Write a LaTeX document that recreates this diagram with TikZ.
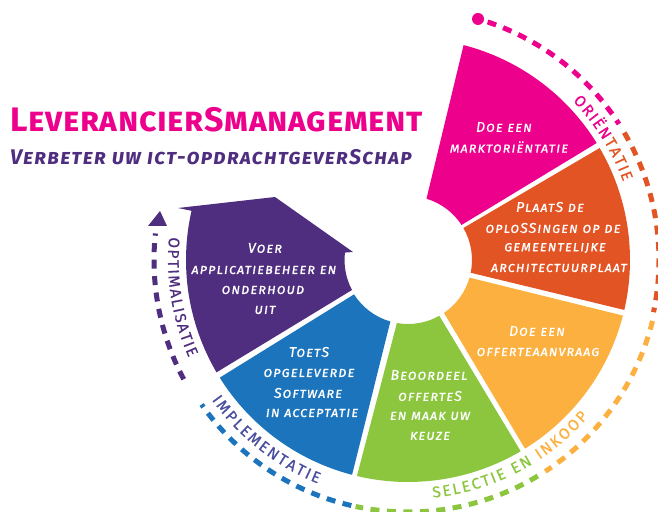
\documentclass[tikz,border=0pt]{standalone}
\usepackage{fontspec}
\setmainfont{Fira Sans}
\newfontfamily\scf{Fira Sans}[Letters=SmallCaps,LetterSpace=7,FakeBold=0.5]
\newfontfamily\subf{Fira Sans}[Letters=SmallCaps,LetterSpace=6]
\newfontfamily\titlef{Fira Sans}[Letters=SmallCaps,LetterSpace=2]
\newfontfamily\lblf{Fira Sans}[FakeBold=0.6]
\usetikzlibrary{calc,decorations.text}
\definecolor{cpink}{HTML}{EC008C}
\definecolor{cred}{HTML}{E35425}
\definecolor{cyel}{HTML}{FBB03F}
\definecolor{cgrn}{HTML}{8CC63F}
\definecolor{cblu}{HTML}{1C75BC}
\definecolor{cpur}{HTML}{4F2D7F}
\definecolor{cimp}{HTML}{4A4E9E}
\newcommand\sect[5]{\fill[#1] ($(c)+(#2:222)$) arc (#2:#3:222pt) -- ($(c)+(#5:64)$) arc (#5:#4:64pt) -- cycle;}
\newcommand\dasharc[4]{\draw[dasharc,#1] ($(c)+(#2:#4)$) arc (#2:#3:#4 pt);}
\newcommand\lf{\lblf\fontsize{15.5}{16}\selectfont}
\tikzset{
  body/.style={text=white,inner sep=0pt,font=\scf\itshape\fontsize{14.2}{15}\selectfont},
  dasharc/.style={line width=5pt,dash pattern=on 9pt off 7.5pt},
  curved/.style={decorate,decoration={text along path,text align={fit to path},text={#1}}}
}
\begin{document}
\begin{tikzpicture}[x=1pt,y=1pt]
\useasboundingbox (0,0) rectangle (658,511);
\coordinate (c) at (408,251);
% sectors
\sect{cpink}{75.5}{31.8}{73.2}{33.2}
\sect{cred}{30.3}{-13}{30}{-11.5}
\sect{cyel}{-14.5}{-58.2}{-16}{-55.8}
\sect{cgrn}{-59.5}{-103.3}{-60.7}{-100}
\sect{cblu}{-104.6}{-148}{-106}{-147.5}
\fill[cpur] (178,303) -- ($(c)+(167.2:222)$) arc (167.2:210.4:222pt) -- (352,221) arc (208:173.4:64pt) -- (353,259) -- (275,314) -- cycle;
% dashed ring
\dasharc{cpink}{71.5}{32.8}{251}
\dasharc{cred}{30.5}{-12}{251}
\dasharc{cyel}{-14}{-57}{252}
\dasharc{cgrn}{-59}{-102}{252}
\dasharc{cblu}{-103}{-145}{252}
\dasharc{cpur}{208}{174}{254}
\fill[cpink] (478,492) circle (6pt);
\fill[cpur] (160,300) -- (148,285) -- (167,285) -- cycle;
% curved labels
\path[curved={|\lf\color{cpink}|ORIËN|\lf\color{cred}|TATIE}] ($(c)+(44:229)$) arc (44:20:229pt);
\path[curved={|\lf\color{cgrn}|SELECTIE EN |\lf\color{cyel}|INKOOP}] ($(c)+(-84:239)$) arc (-84:-41:239pt);
\path[curved={|\lf\color{cimp}|IMPLEMENTATIE}] ($(c)+(215.5:241)$) arc (215.5:248:241pt);
\path[curved={|\lf\color{cpur}|OPTIMALISATIE}] ($(c)+(174.5:240)$) arc (174.5:204:240pt);
% title
\node[anchor=base west,inner sep=0pt,text=cpink,font=\titlef\bfseries\fontsize{34}{35}\selectfont] (title) at (10,379) {LeverancierSmanagement};
\node[anchor=base west,inner sep=0pt,text=cpur,font=\subf\itshape\bfseries\fontsize{21.2}{22}\selectfont] (sub) at (10,346) {Verbeter uw ict-opdrachtgeverSchap};
% sector text
\node[body] (p1) at (504,384) {Doe een};
\node[body] (p2) at (509,364) {marktoriëntatie};
\node[body] (o1) at (550,304) {PlaatS de};
\node[body] (o2) at (553,283) {oploSSingen op de};
\node[body] (o3) at (555,263) {gemeentelijke};
\node[body] (o4) at (559,243) {architectuurplaat};
\node[body] (y1) at (537,180) {Doe een};
\node[body] (y2) at (538,159) {offerteaanvraag};
\node[body] (g1) at (429,136) {Beoordeel};
\node[body] (g2) at (430,115) {offerteS};
\node[body] (g3) at (430,95) {en maak uw};
\node[body] (g4) at (430,75) {keuze};
\node[body] (b1) at (309,159) {ToetS};
\node[body] (b2) at (309,138) {opgeleverde};
\node[body] (b3) at (308,118) {Software};
\node[body] (b4) at (312,98) {in acceptatie};
\node[body] (v1) at (265,263) {Voer};
\node[body] (v2) at (264,241) {applicatiebeheer en};
\node[body] (v3) at (263,221) {onderhoud};
\node[body] (v4) at (265,201) {uit};
\end{tikzpicture}
\end{document}
